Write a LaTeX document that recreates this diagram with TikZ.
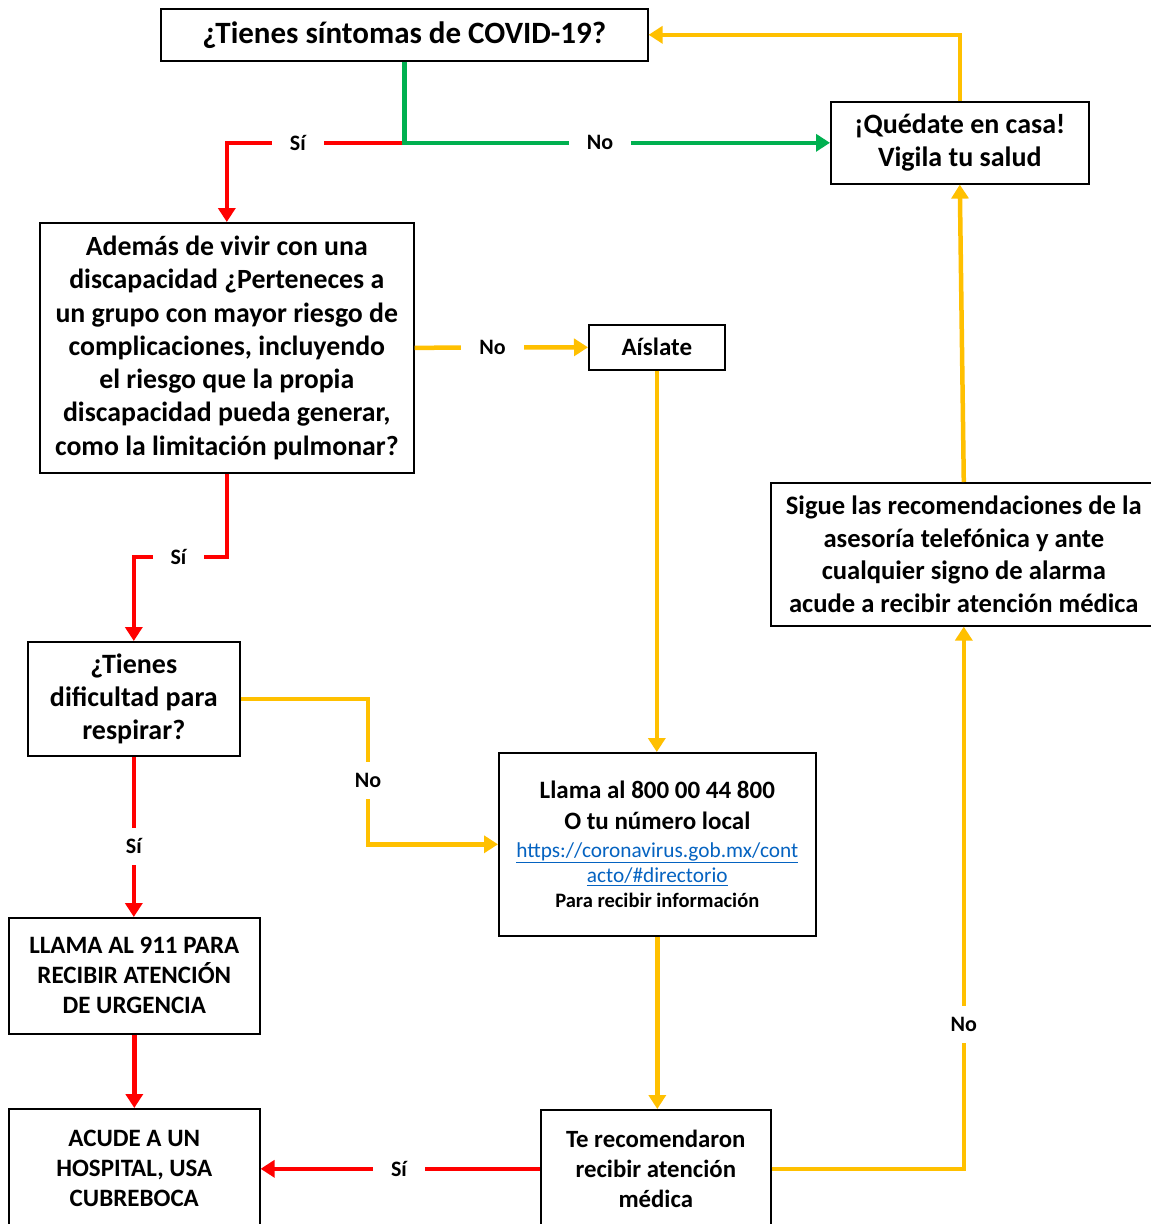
\documentclass[tikz,border=0pt]{standalone}
\usepackage{fontspec}
\setmainfont{Carlito}
\usetikzlibrary{arrows.meta}
\definecolor{cred}{HTML}{FF0000}
\definecolor{cgreen}{HTML}{00B050}
\definecolor{cyellow}{HTML}{FFC000}
\definecolor{linkblue}{HTML}{0563C1}
\newcommand{\fs}[2]{\fontsize{#1}{#2}\selectfont\bfseries}
\begin{document}
\begin{tikzpicture}[x=1pt,y=-1pt,
  box/.style={draw=black, line width=1.6pt, anchor=north west, inner sep=0pt, align=center},
  conn/.style={line width=4.5pt, -{Triangle[length=14pt,width=17pt]}},
  lbl/.style={fill=white, font=\fs{22}{26}, inner xsep=18pt, inner ysep=11pt, text=black}]
\useasboundingbox[fill=white] (0,0) rectangle (1151,1224);

\node[box, minimum width=487, minimum height=52, font=\fs{31}{36}] (t) at (160,8) {¿Tienes síntomas de COVID-19?};
\node[box, minimum width=258, minimum height=82, font=\fs{28}{33}] (casa) at (830,101) {¡Quédate en casa!\\Vigila tu salud};
\node[box, minimum width=374, minimum height=250, font=\fs{27.8}{33.3}] (q2) at (39,222) {Además de vivir con una\\discapacidad ¿Perteneces a\\un grupo con mayor riesgo de\\complicaciones, incluyendo\\el riesgo que la propia\\discapacidad pueda generar,\\como la limitación pulmonar?};
\node[box, minimum width=136, minimum height=45, font=\fs{25}{30}] (ais) at (588,324) {Aíslate};
\node[box, minimum width=386, minimum height=143, font=\fs{26.6}{32.5}] (sigue) at (770,482) {Sigue las recomendaciones de la\\asesoría telefónica y ante\\cualquier signo de alarma\\acude a recibir atención médica};
\node[box, minimum width=212, minimum height=114, font=\fs{28}{33}] (dif) at (27,641) {¿Tienes\\dificultad para\\respirar?};
\node[box, minimum width=317, minimum height=183, font=\fs{25}{31}] (llama) at (498,752) {Llama al 800 00 44 800\\O tu número local\\[-3pt]
  \fontsize{21.3}{25}\selectfont\mdseries\color{linkblue}\underline{https://coronavirus.gob.mx/cont}\\[-6pt]
  \fontsize{21.3}{25}\selectfont\mdseries\color{linkblue}\underline{acto/\#directorio}\\[-6pt]
  \fontsize{20.5}{24}\selectfont Para recibir información};
\node[box, minimum width=251, minimum height=116, font=\fs{25}{30}] (urg) at (8,917) {LLAMA AL 911 PARA\\RECIBIR ATENCIÓN\\DE URGENCIA};
\node[box, minimum width=251, minimum height=120, font=\fs{25}{30}] (hosp) at (8,1108) {ACUDE A UN\\HOSPITAL, USA\\CUBREBOCA};
\node[box, minimum width=230, minimum height=118, font=\fs{24.8}{30}] (te) at (540,1109) {Te recomendaron\\recibir atención\\médica};

\coordinate (k1) at (q2.south |- 0,557);
\coordinate (k2) at (dif.east -| 368,0);

\draw[conn, cred] (t.south |- casa.west) -| node[lbl,pos=0.3]{Sí} (q2.north);
\draw[conn, cgreen] (t.south) |- node[lbl,pos=0.73]{No} (casa.west);
\draw[conn, cyellow] (q2.east) -- node[lbl,pos=0.45]{No} (ais.west);
\draw[conn, cred] (q2.south) -- (k1) -| node[lbl,pos=0.26]{Sí} (dif.north);
\draw[conn, cyellow] (dif.east) -- (k2) |- node[lbl,pos=0.28]{No} (llama.west);
\draw[conn, cred] (dif.south) -- node[lbl,pos=0.56]{Sí} (dif.south |- urg.north);
\draw[conn, cred] (urg.south) -- (urg.south |- hosp.north);
\draw[conn, cyellow] (ais.south) -- (ais.south |- llama.north);
\draw[conn, cyellow] (llama.south) -- (llama.south |- te.north);
\draw[conn, cred] (te.west) -- node[lbl,pos=0.505]{Sí} (hosp.east);
\draw[conn, cyellow] (te.east) -| node[lbl,pos=0.633]{No} (sigue.south);
\draw[conn, cyellow] (sigue.north) -- (casa.south);
\draw[conn, cyellow] (casa.north) |- (t.east);
\end{tikzpicture}
\end{document}
